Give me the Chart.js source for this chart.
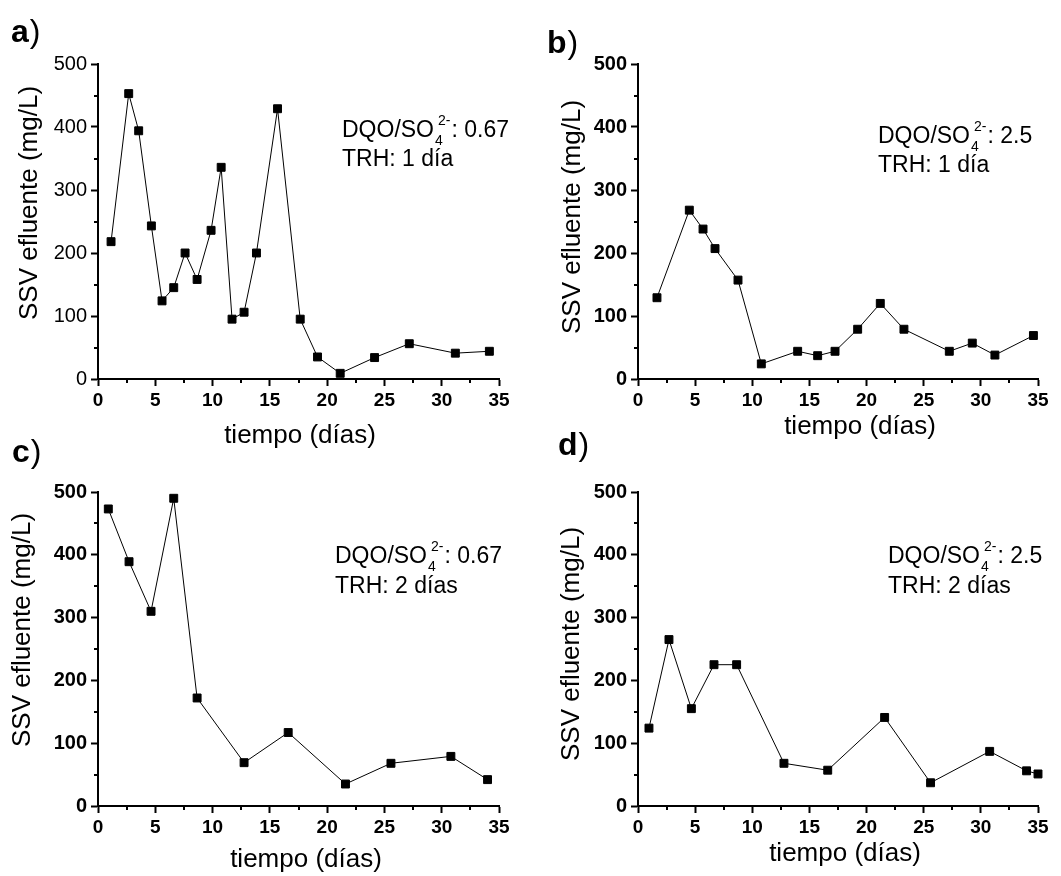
<!DOCTYPE html>
<html><head><meta charset="utf-8">
<script src="https://cdn.jsdelivr.net/npm/chart.js@4/dist/chart.umd.min.js"></script>
<style>
html,body{margin:0;padding:0;background:#fff;width:1061px;height:876px;overflow:hidden;position:relative}
canvas{position:absolute}
</style></head><body>
<canvas id="ca" width="530" height="460" style="left:0px;top:0px"></canvas>
<canvas id="cb" width="531" height="460" style="left:530px;top:0px"></canvas>
<canvas id="cc" width="530" height="451" style="left:0px;top:425px"></canvas>
<canvas id="cd" width="531" height="451" style="left:530px;top:425px"></canvas>
<script>
// ---- data ----
const dayA = [1.14, 2.68, 3.55, 4.66, 5.59, 6.61, 7.6, 8.65, 9.87, 10.75, 11.7, 12.75, 13.83, 15.67, 17.65, 19.16, 21.14, 24.14, 27.17, 31.19, 34.16];
const ssvA = [218, 453, 394, 243, 124, 145, 200, 158, 236, 336, 95, 106, 200, 429, 95, 35, 9, 34, 56, 41, 44];
const dayB = [1.66, 4.49, 5.69, 6.74, 8.75, 10.79, 13.97, 15.72, 17.24, 19.22, 21.2, 23.27, 27.24, 29.25, 31.23, 34.6];
const ssvB = [129, 268, 238, 207, 157, 24, 44, 37, 44, 79, 120, 79, 44, 57, 38, 69];
const dayC = [0.9, 2.71, 4.63, 6.61, 8.65, 12.75, 16.6, 21.6, 25.57, 30.8, 34.0];
const ssvC = [473, 389, 310, 490, 172, 69, 117, 35, 68, 79, 42];
const dayD = [0.96, 2.71, 4.67, 6.65, 8.63, 12.77, 16.6, 21.58, 25.6, 30.77, 34.0, 35.0];
const ssvD = [124, 265, 155, 225, 225, 68, 57, 141, 37, 87, 56, 51];

const xMajorTicks = [0, 5, 10, 15, 20, 25, 30, 35];
const xMinorTicks = [2.5, 7.5, 12.5, 17.5, 22.5, 27.5, 32.5];
const yMajorTicks = [0, 100, 200, 300, 400, 500];
const yMinorTicks = [50, 150, 250, 350, 450];

const panelLetters = ['a', 'b', 'c', 'd'];
const ratioLabels = ['0.67', '2.5', '0.67', '2.5'];
const trhLabels = ['TRH: 1 día', 'TRH: 1 día', 'TRH: 2 días', 'TRH: 2 días'];
const yTitle = 'SSV efluente (mg/L)';
const xTitle = 'tiempo (días)';

// ---- drawing ----
const FAM = '"Liberation Sans", Arial, Helvetica, sans-serif';

const decoPlugin = {
  id: 'deco',
  afterDraw(chart, args, o) {
    const ctx = chart.ctx;
    const xs = chart.scales.x, ys = chart.scales.y;
    const ox = o.ox, oy = o.oy;
    ctx.save();
    ctx.fillStyle = '#000';
    ctx.strokeStyle = '#000';
    // minor ticks
    ctx.lineWidth = 2;
    const yb = chart.chartArea.bottom, xl = chart.chartArea.left;
    ctx.beginPath();
    xMinorTicks.forEach(v => { const px = Math.round(xs.getPixelForValue(v)); ctx.moveTo(px, yb); ctx.lineTo(px, yb + 4); });
    yMinorTicks.forEach(v => { const py = Math.round(ys.getPixelForValue(v)); ctx.moveTo(xl, py); ctx.lineTo(xl - 4, py); });
    ctx.stroke();
    // panel letter
    ctx.textAlign = 'left';
    ctx.textBaseline = 'alphabetic';
    ctx.font = 'bold 32px ' + FAM;
    ctx.fillText(o.letter, o.lx - ox, o.ly - oy);
    const lw = ctx.measureText(o.letter).width;
    ctx.font = '32px ' + FAM;
    ctx.fillText(')', o.lx - ox + lw + 1, o.ly - oy);
    // y title
    ctx.save();
    ctx.translate(o.ytx - ox, o.yty - oy);
    ctx.rotate(-Math.PI / 2);
    ctx.font = '26px ' + FAM;
    ctx.textAlign = 'center';
    ctx.textBaseline = 'middle';
    ctx.fillText(yTitle, 0, 0);
    ctx.restore();
    // x title
    ctx.font = '26px ' + FAM;
    ctx.textAlign = 'center';
    ctx.textBaseline = 'alphabetic';
    ctx.fillText(xTitle, o.xtx - ox, o.xty - oy);
    // annotation
    ctx.textAlign = 'left';
    const ax = o.ax - ox, ay = o.ay - oy;
    ctx.font = '23px ' + FAM;
    ctx.fillText('DQO/SO', ax, ay);
    const w = ctx.measureText('DQO/SO').width;
    ctx.font = '14px ' + FAM;
    ctx.fillText('4', ax + w + 1, ay + 8);
    ctx.fillText('2-', ax + w + 4, ay - 12);
    const w2 = ctx.measureText('2-').width;
    ctx.font = '23px ' + FAM;
    ctx.fillText(': ' + o.ratio, ax + w + 4 + w2 + 1, ay);
    ctx.fillText(o.trh, ax, ay + o.gap);
    ctx.restore();
  }
};

function makeChart(id, days, vals, p) {
  return new Chart(document.getElementById(id), {
    type: 'line',
    data: {
      datasets: [{
        data: days.map((d, i) => ({ x: d, y: vals[i] })),
        borderColor: '#000', borderWidth: 1, backgroundColor: '#000',
        pointStyle: 'rect', pointRadius: 5.6, pointBorderWidth: 1,
        pointBackgroundColor: '#000', pointBorderColor: '#000',
        tension: 0, fill: false, clip: false
      }]
    },
    options: {
      responsive: false, animation: false, devicePixelRatio: 1,
      layout: { padding: { left: 0, top: p.top, right: p.right, bottom: p.bottom } },
      plugins: { legend: { display: false }, tooltip: { enabled: false }, deco: p },
      scales: {
        x: {
          type: 'linear', min: 0, max: 35,
          afterBuildTicks: s => { s.ticks = xMajorTicks.map(v => ({ value: v })); },
          ticks: { font: { family: FAM, size: 19, weight: 'bold' }, color: '#000', padding: 3, maxRotation: 0, autoSkip: false },
          grid: { display: true, drawOnChartArea: false, drawTicks: true, tickLength: 7, tickWidth: 2, tickColor: '#000' },
          border: { display: true, color: '#000', width: 2 },
          afterFit: s => { s.height = 40; }
        },
        y: {
          type: 'linear', min: 0, max: 500,
          afterBuildTicks: s => { s.ticks = yMajorTicks.map(v => ({ value: v })); },
          ticks: { font: p.yFont, color: '#000', padding: 4, autoSkip: false },
          grid: { display: true, drawOnChartArea: false, drawTicks: true, tickLength: 7, tickWidth: 2, tickColor: '#000' },
          border: { display: true, color: '#000', width: 2 },
          afterFit: s => { s.width = p.left; }
        }
      }
    },
    plugins: [decoPlugin]
  });
}

makeChart('ca', dayA, ssvA, { ox: 0, oy: 0, left: 98, top: 64, right: 31, bottom: 41,
  yFont: { family: FAM, size: 20, weight: 'normal' },
  letter: panelLetters[0], lx: 11, ly: 42, ytx: 30, yty: 203, xtx: 300, xty: 443,
  ax: 342, ay: 137, gap: 29, ratio: ratioLabels[0], trh: trhLabels[0] });
makeChart('cb', dayB, ssvB, { ox: 530, oy: 0, left: 108, top: 64, right: 23, bottom: 41,
  yFont: { family: FAM, size: 20, weight: 'bold' },
  letter: panelLetters[1], lx: 547, ly: 53, ytx: 573, yty: 217, xtx: 860, xty: 434,
  ax: 878, ay: 143, gap: 29, ratio: ratioLabels[1], trh: trhLabels[1] });
makeChart('cc', dayC, ssvC, { ox: 0, oy: 425, left: 98, top: 67, right: 31, bottom: 30,
  yFont: { family: FAM, size: 20, weight: 'bold' },
  letter: panelLetters[2], lx: 12, ly: 462, ytx: 23, yty: 630, xtx: 306, xty: 867,
  ax: 335, ay: 563, gap: 30, ratio: ratioLabels[2], trh: trhLabels[2] });
makeChart('cd', dayD, ssvD, { ox: 530, oy: 425, left: 108, top: 67, right: 23, bottom: 30,
  yFont: { family: FAM, size: 20, weight: 'bold' },
  letter: panelLetters[3], lx: 558, ly: 455, ytx: 572, yty: 644, xtx: 845, xty: 861,
  ax: 888, ay: 563, gap: 30, ratio: ratioLabels[3], trh: trhLabels[3] });
</script>
</body></html>
